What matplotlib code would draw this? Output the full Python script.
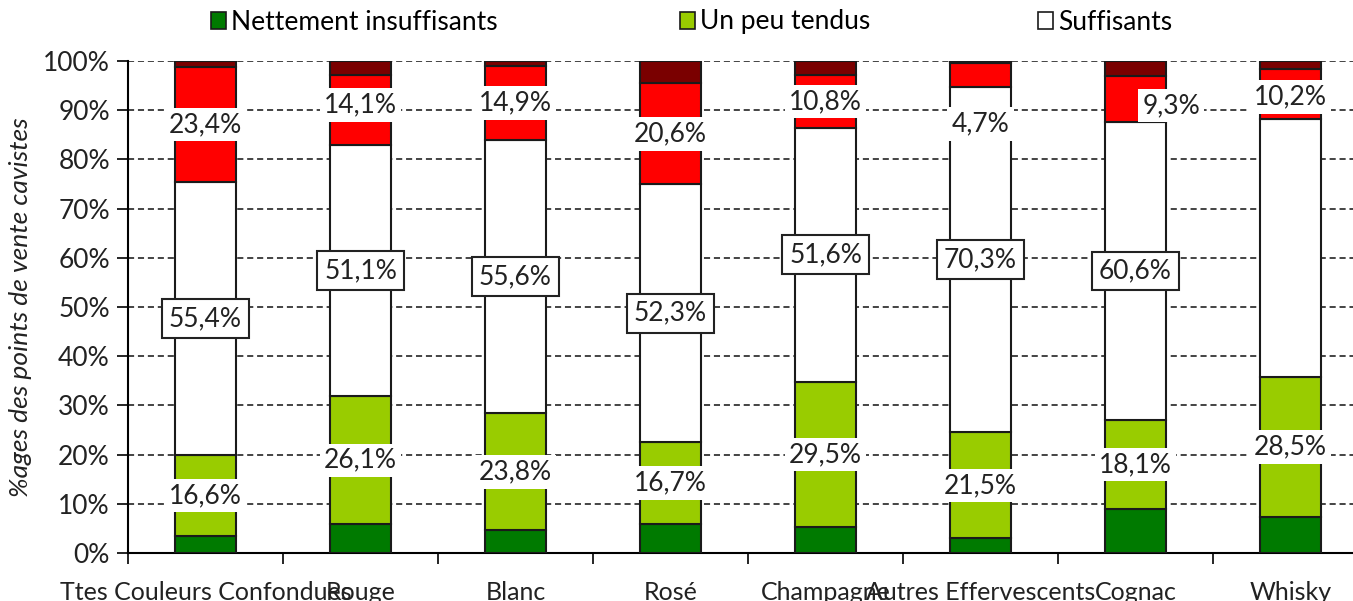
import matplotlib
matplotlib.use("Agg")
import matplotlib.pyplot as plt
from matplotlib.patches import Patch
import numpy as np

plt.rcParams['font.family'] = ['Lato', 'DejaVu Sans']

# données (% des points de vente cavistes)
categories = ["Ttes Couleurs Confondues", "Rouge", "Blanc", "Rosé",
              "Champagne", "Autres Effervescents", "Cognac", "Whisky"]
nettement = [3.4, 5.8, 4.6, 5.9, 5.3, 3.0, 8.9, 7.3]
un_peu = [16.6, 26.1, 23.8, 16.7, 29.5, 21.5, 18.1, 28.5]
suffisants = [55.4, 51.1, 55.6, 52.3, 51.6, 70.3, 60.6, 52.4]
tendus = [23.4, 14.1, 14.9, 20.6, 10.8, 4.7, 9.3, 10.2]
tres_tendus = [1.2, 2.9, 1.1, 4.5, 2.8, 0.5, 3.1, 1.6]

show_suff_label = [True, True, True, True, True, True, True, False]

series = [nettement, un_peu, suffisants, tendus, tres_tendus]
colors = ["#007A00", "#99CC00", "#FFFFFF", "#FF0000", "#7A0000"]

fig = plt.figure(figsize=(13.53, 6.01), dpi=100)
ax = fig.add_axes([128 / 1353, 48 / 601, 1240 / 1353, 492 / 601])

x = np.arange(len(categories))
bottom = np.zeros(len(categories))
bars = []
for vals, c in zip(series, colors):
    b = ax.bar(x, vals, 0.39, bottom=bottom, color=c, edgecolor="#1a1a1a",
               linewidth=1.5, zorder=3)
    bars.append((np.array(vals), bottom.copy()))
    bottom += np.array(vals)

ax.set_xlim(-0.5, len(categories) - 0.5)
ax.set_ylim(0, 100)
ax.set_yticks(range(0, 101, 10))
ax.set_yticklabels([f"{v}%" for v in range(0, 101, 10)], fontsize=19, color="#222222")
ax.set_xticks(x)
ax.set_xticklabels(categories, fontsize=18, color="#222222")
ax.set_xticks(np.arange(len(categories) + 1) - 0.5, minor=True)
ax.tick_params(axis='x', which='major', length=0, pad=20)
ax.tick_params(axis='x', which='minor', length=8, width=1.2, direction='out')
ax.tick_params(axis='y', length=8, width=1.2, direction='out', pad=5)
ax.yaxis.grid(True, linestyle=(0, (4, 2.5)), color="#111111", linewidth=1.1, zorder=0)
ax.set_axisbelow(True)
for s in ['top', 'right']:
    ax.spines[s].set_visible(False)
ax.spines['left'].set_linewidth(1.5)
ax.spines['bottom'].set_linewidth(1.5)
ax.set_ylabel("%ages des points de vente cavistes", fontsize=19, style='italic',
              color="#222222", labelpad=8)

plain = dict(facecolor="white", edgecolor="none", pad=3)
boxed = dict(facecolor="white", edgecolor="#222222", linewidth=1.5, pad=5)

# étiquettes un peu tendus
vals, bot = bars[1]
for i in range(len(x)):
    ax.text(x[i], bot[i] + vals[i] / 2, f"{vals[i]:.1f}%".replace(".", ","),
            ha="center", va="center", fontsize=19, color="#222222", bbox=plain, zorder=5)

# étiquettes suffisants
vals, bot = bars[2]
for i in range(len(x)):
    if show_suff_label[i]:
        ax.text(x[i], bot[i] + vals[i] / 2, f"{vals[i]:.1f}%".replace(".", ","),
                ha="center", va="center", fontsize=19, color="#222222", bbox=boxed, zorder=5)

# étiquettes tendus
red_dx = [0, 0, 0, 0, 0, 0, 0.23, 0]
red_dy = [0, 1, 0, 0, 0, -10, -1.3, -0.6]
vals, bot = bars[3]
for i in range(len(x)):
    ax.text(x[i] + red_dx[i], bot[i] + vals[i] / 2 + red_dy[i],
            f"{vals[i]:.1f}%".replace(".", ","),
            ha="center", va="center", fontsize=19, color="#222222", bbox=plain, zorder=5)

legend_names = ["Nettement insuffisants", "Un peu tendus", "Suffisants"]
legend_x = [211 / 1353, 680 / 1353, 1038 / 1353]
for name, c, lx in zip(legend_names, colors[:3], legend_x):
    h = Patch(facecolor=c, edgecolor="#1a1a1a", linewidth=1.2)
    fig.legend([h], [name], loc="center left", bbox_to_anchor=(lx, 1 - 22 / 601),
               frameon=False, fontsize=19, handlelength=0.55, handleheight=0.6,
               handletextpad=0.2, borderpad=0, borderaxespad=0)

fig.savefig("out.png", dpi=100)
